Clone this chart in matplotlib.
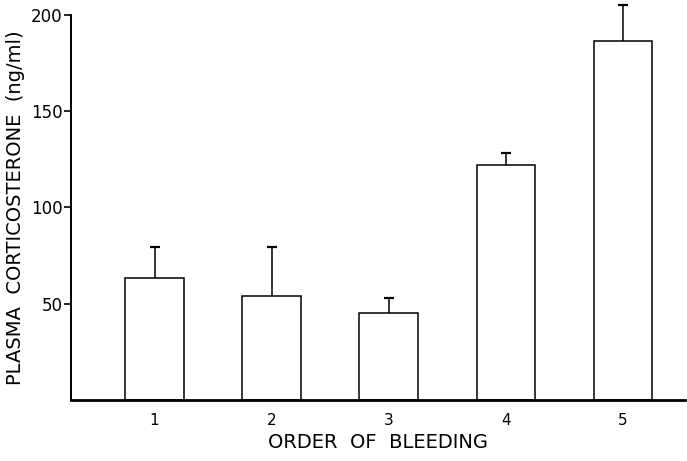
import matplotlib.pyplot as plt

order = [1, 2, 3, 4, 5]
means = [63.5, 54, 45, 122, 186.5]
sem = [16, 25.5, 8, 6.5, 18.5]

fig = plt.figure(figsize=(6.87, 4.61), dpi=100)
ax = fig.add_axes([0.1033, 0.132, 0.8937, 0.836])

ax.bar(order, means, width=0.5, color='white', edgecolor='black', linewidth=1.1)
eb = ax.errorbar(order, means, yerr=[[0] * len(sem), sem], fmt='none', ecolor='black',
                 elinewidth=1.1, capsize=3.5, capthick=1.6)
# only the upper half of each error bar is shown
eb[1][0].set_visible(False)
for artist in list(eb[1]) + list(eb[2]):
    artist.set_clip_on(False)

ax.set_xlim(0.286, 5.53)
ax.set_ylim(0, 200)
ax.set_yticks([50, 100, 150, 200])
ax.set_xticks(order)
ax.tick_params(axis='y', direction='out', length=5, width=1.2, labelsize=12, pad=1)
ax.tick_params(axis='x', length=0, labelsize=11, pad=9)

ax.spines['top'].set_visible(False)
ax.spines['right'].set_visible(False)
ax.spines['left'].set_linewidth(1.4)
ax.spines['bottom'].set_linewidth(2.0)

ax.set_ylabel('PLASMA  CORTICOSTERONE  (ng/ml)', fontsize=14, labelpad=4)
ax.set_xlabel('ORDER  OF  BLEEDING', fontsize=14, labelpad=4)

fig.savefig('out.png', dpi=100)
